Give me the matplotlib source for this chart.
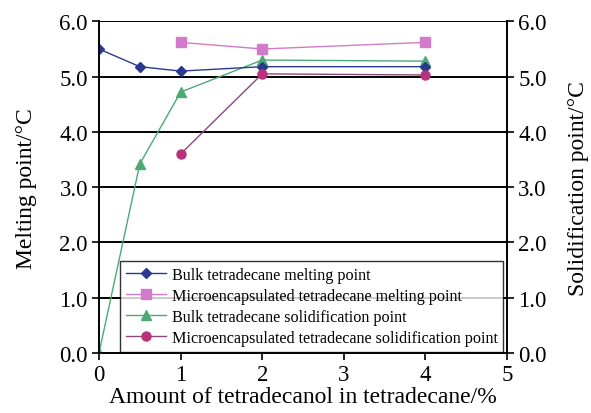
import matplotlib.pyplot as plt

plt.rcParams['font.family'] = ['Liberation Serif', 'DejaVu Serif']

# tetradecanol content (%) and measured temperatures (degC)
bulk_melt_x = [0, 0.5, 1, 2, 4]
bulk_melt_y = [5.5, 5.18, 5.1, 5.18, 5.18]
micro_melt_x = [1, 2, 4]
micro_melt_y = [5.62, 5.5, 5.62]
bulk_solid_x = [0, 0.5, 1, 2, 4]
bulk_solid_y = [0.0, 3.42, 4.72, 5.3, 5.28]
micro_solid_x = [1, 2, 4]
micro_solid_y = [3.6, 5.05, 5.03]

y_ticks = [0, 1, 2, 3, 4, 5, 6]
x_ticks = [0, 1, 2, 3, 4, 5]

fig = plt.figure(figsize=(5.91, 4.14), dpi=100)
ax = fig.add_axes([0.1675, 0.145, 0.6905, 0.801])

ax.plot(bulk_melt_x, bulk_melt_y, color='#2B3A8F', lw=1, marker='D', ms=5.5,
        mfc='#2B3A8F', mec='#2B3A8F', label='Bulk tetradecane melting point', zorder=5)
ax.plot(micro_melt_x, micro_melt_y, color='#D37BC8', lw=1, marker='s', ms=7,
        mfc='#D37BC8', mec='#D37BC8', label='Microencapsulated tetradecane melting point', zorder=4)
ax.plot(bulk_solid_x, bulk_solid_y, color='#4DAA76', lw=1, marker='^', ms=7.5,
        mfc='#4DAA76', mec='#4DAA76', label='Bulk tetradecane solidification point', zorder=4)
ax.plot(micro_solid_x, micro_solid_y, color='#8A4A78', lw=1, marker='o', ms=6.5,
        mfc='#B8327A', mec='#B8327A', label='Microencapsulated tetradecane solidification point', zorder=6)

ax.set_xlim(0, 5)
ax.set_ylim(0, 6)
ax.set_xticks(x_ticks)
ax.set_yticks(y_ticks)
ax.set_yticklabels([f'{v:.1f}' for v in y_ticks])
for v in y_ticks[1:]:
    ax.axhline(v, color='black', lw=1.4, zorder=1)

ax.tick_params(direction='out', length=5, width=1.2, labelsize=16.5, pad=3)
for s in ax.spines.values():
    s.set_linewidth(1.2)
ax.spines['top'].set_visible(False)

ax.set_xlabel('Amount of tetradecanol in tetradecane/%', fontsize=17, labelpad=1)
ax.set_ylabel('Melting point/\u00b0C', fontsize=17, labelpad=16)

ax2 = ax.twinx()
ax2.set_ylim(0, 6)
ax2.set_yticks(y_ticks)
ax2.set_yticklabels([f'{v:.1f}' for v in y_ticks])
ax2.tick_params(direction='out', length=5, width=1.2, labelsize=16.5, pad=3)
for s in ax2.spines.values():
    s.set_linewidth(1.2)
ax2.spines['top'].set_visible(False)
ax2.set_ylabel('Solidification point/\u00b0C', fontsize=17, labelpad=15)

leg = ax.legend(loc='lower left', bbox_to_anchor=(0.052, 0.004), fontsize=11.6,
                frameon=True, fancybox=False, borderpad=0.35, labelspacing=0.32,
                handlelength=2.5, handletextpad=0.35, borderaxespad=0)
leg.get_frame().set_edgecolor('black')
leg.get_frame().set_linewidth(1.0)
leg.set_zorder(10)

fig.savefig('out.png', dpi=100)
